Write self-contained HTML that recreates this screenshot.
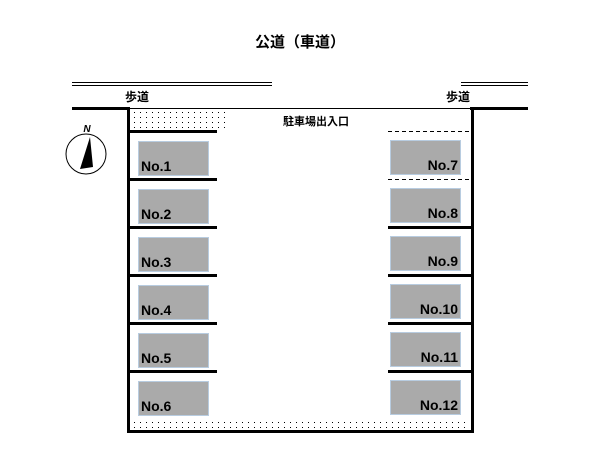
<!DOCTYPE html>
<html><head><meta charset="utf-8"><style>
body{margin:0;width:600px;height:450px;background:#fff;overflow:hidden}
</style></head><body>
<svg width="600" height="450" xmlns="http://www.w3.org/2000/svg" font-family="'Liberation Sans','Noto Sans CJK JP',sans-serif">
<defs><pattern id="d" width="6" height="5" patternUnits="userSpaceOnUse"><rect x="2" y="2" width="1" height="1" fill="#000"/></pattern></defs>
<text x="300" y="47" font-size="15" font-weight="bold" text-anchor="middle">公道（車道）</text>
<line x1="72" y1="82.5" x2="272" y2="82.5" stroke="#000"/>
<line x1="72" y1="85.5" x2="272" y2="85.5" stroke="#000"/>
<line x1="461" y1="82.5" x2="528" y2="82.5" stroke="#000"/>
<line x1="461" y1="85.5" x2="528" y2="85.5" stroke="#000"/>
<text x="125" y="101" font-size="12" font-weight="bold">歩道</text>
<text x="446" y="101" font-size="12" font-weight="bold">歩道</text>
<line x1="128" y1="108.5" x2="472" y2="108.5" stroke="#000"/>
<line x1="72" y1="108.5" x2="130" y2="108.5" stroke="#000" stroke-width="3"/>
<line x1="470" y1="108.5" x2="528" y2="108.5" stroke="#000" stroke-width="3"/>
<rect x="130" y="110" width="96" height="21" fill="url(#d)"/>
<rect x="130" y="420" width="340" height="10" fill="url(#d)"/>
<path d="M128.5 108 V431.5 H472.5 V108" fill="none" stroke="#000" stroke-width="3"/>
<text x="283" y="125" font-size="11" font-weight="bold">駐車場出入口</text>
<circle cx="86" cy="154" r="20" fill="none" stroke="#000"/>
<polygon points="90,137 80,169 93,167" fill="#000"/>
<text x="87" y="132" font-size="10" font-weight="bold" font-style="italic" text-anchor="middle">N</text>
<g stroke="#000" stroke-width="3">
<line x1="128" y1="131.5" x2="217" y2="131.5"/><line x1="128" y1="179.5" x2="217" y2="179.5"/>
<line x1="128" y1="227.5" x2="217" y2="227.5"/><line x1="128" y1="275.5" x2="217" y2="275.5"/>
<line x1="128" y1="323.5" x2="217" y2="323.5"/><line x1="128" y1="371.5" x2="217" y2="371.5"/>
<line x1="388" y1="227.5" x2="472" y2="227.5"/><line x1="388" y1="275.5" x2="472" y2="275.5"/>
<line x1="388" y1="323.5" x2="472" y2="323.5"/><line x1="388" y1="371.5" x2="472" y2="371.5"/>
</g>
<g stroke="#000" stroke-dasharray="4,3"><line x1="388" y1="131.5" x2="472" y2="131.5"/><line x1="388" y1="179.5" x2="472" y2="179.5"/></g>
<g fill="#aaa" stroke="#b8cce0" stroke-width="1">
<rect x="138.5" y="141.5" width="70" height="34"/><rect x="138.5" y="189.5" width="70" height="34"/>
<rect x="138.5" y="237.5" width="70" height="34"/><rect x="138.5" y="285.5" width="70" height="34"/>
<rect x="138.5" y="333.5" width="70" height="34"/><rect x="138.5" y="381.5" width="70" height="34"/>
<rect x="390.5" y="140.5" width="70" height="34"/><rect x="390.5" y="188.5" width="70" height="34"/>
<rect x="390.5" y="236.5" width="70" height="34"/><rect x="390.5" y="284.5" width="70" height="34"/>
<rect x="390.5" y="332.5" width="70" height="34"/><rect x="390.5" y="380.5" width="70" height="34"/>
</g>
<g font-size="14" font-weight="bold">
<text x="141" y="171">No.1</text><text x="141" y="219">No.2</text><text x="141" y="267">No.3</text>
<text x="141" y="315">No.4</text><text x="141" y="363">No.5</text><text x="141" y="411">No.6</text>
<g text-anchor="end"><text x="458" y="170">No.7</text><text x="458" y="218">No.8</text><text x="458" y="266">No.9</text>
<text x="458" y="314">No.10</text><text x="458" y="362">No.11</text><text x="458" y="410">No.12</text></g>
</g>
</svg>
</body></html>
